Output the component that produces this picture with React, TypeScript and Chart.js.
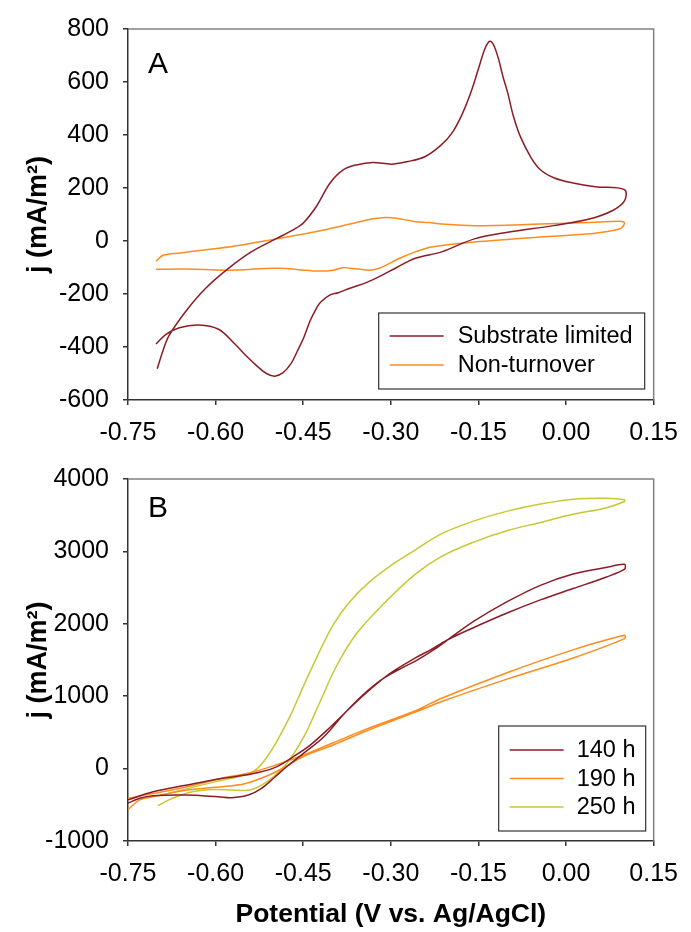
import React, { useEffect, useRef } from 'react';
import { Chart, registerables } from 'chart.js';

Chart.register(...registerables);

const FONT = "'Liberation Sans', Arial, Helvetica, sans-serif";

// ---------- Panel A ----------
const subV = [
  -0.700, -0.690, -0.680, -0.651, -0.617, -0.578, -0.539, -0.497, -0.465, -0.449, -0.427, -0.404, -0.381, -0.359,
  -0.331, -0.298, -0.270, -0.241, -0.215, -0.196, -0.178, -0.162, -0.150, -0.140, -0.133, -0.128, -0.123, -0.116,
  -0.108, -0.100, -0.090, -0.078, -0.060, -0.044, -0.020, 0.012, 0.050, 0.100, 0.100, 0.079, 0.040, -0.022,
  -0.100, -0.157, -0.213, -0.258, -0.290, -0.314, -0.340, -0.370, -0.390, -0.404, -0.420, -0.427, -0.438, -0.449,
  -0.460, -0.471, -0.485, -0.499, -0.513, -0.527, -0.547, -0.567, -0.595, -0.629, -0.662, -0.685, -0.702,
];
const subJ = [
  -482, -413, -358, -265, -178, -103, -41, 8, 45, 70, 132, 219, 269, 287,
  296, 290, 300, 319, 360, 405, 478, 567, 650, 720, 750, 752, 735, 690,
  620, 560, 470, 393, 315, 269, 238, 219, 205, 194, 151, 114, 83, 58,
  33, 8, -41, -65, -100, -128, -155, -178, -195, -203, -230, -252, -300, -364,
  -415, -463, -498, -510, -500, -476, -435, -389, -333, -317, -327, -352, -389,
];

const nonV = [
  -0.702, -0.690, -0.660, -0.623, -0.567, -0.497, -0.427, -0.370, -0.330, -0.309, -0.290, -0.258, -0.235, -0.213,
  -0.157, -0.044, 0.040, 0.096, 0.100, 0.091, 0.040, -0.044, -0.157, -0.230, -0.258, -0.286, -0.320, -0.337,
  -0.355, -0.370, -0.381, -0.398, -0.427, -0.494, -0.578, -0.651, -0.702,
];
const nonJ = [
  -76, -54, -45, -35, -19, 8, 36, 64, 84, 89, 86, 73, 70, 64,
  58, 64, 70, 74, 66, 45, 27, 15, -4, -23, -41, -66, -103, -110,
  -106, -103, -100, -110, -113, -103, -110, -106, -107,
];

// ---------- Panel B ----------
const h140V = [
  -0.750, -0.730, -0.707, -0.651, -0.595, -0.573, -0.544, -0.522, -0.499, -0.477, -0.449, -0.415, -0.381, -0.348,
  -0.314, -0.280, -0.258, -0.225, -0.196, -0.157, -0.100, -0.044, 0.012, 0.068, 0.100, 0.100, 0.068, 0.012,
  -0.044, -0.100, -0.157, -0.200, -0.230, -0.258, -0.303, -0.337, -0.370, -0.404, -0.438, -0.466, -0.499, -0.539,
  -0.595, -0.651, -0.707, -0.750,
];
const h140J = [
  -477, -410, -374, -365, -388, -401, -365, -276, -120, 36, 214, 437, 749, 1016,
  1239, 1395, 1484, 1650, 1818, 2041, 2309, 2531, 2687, 2777, 2821, 2754, 2643, 2487,
  2330, 2152, 1952, 1790, 1650, 1528, 1306, 1083, 838, 571, 325, 170, 13, -76,
  -143, -231, -321, -432,
];

const h190V = [
  -0.750, -0.730, -0.707, -0.651, -0.595, -0.550, -0.511, -0.483, -0.449, -0.398, -0.342, -0.258, -0.213, -0.100,
  0.012, 0.100, 0.100, 0.012, -0.100, -0.213, -0.258, -0.342, -0.398, -0.455, -0.494, -0.539, -0.595, -0.651,
  -0.707, -0.750,
];
const h190J = [
  -566, -432, -388, -298, -254, -209, -98, 13, 170, 330, 520, 780, 926, 1239,
  1528, 1796, 1841, 1640, 1328, 972, 800, 545, 360, 170, 57, -53, -143, -254,
  -343, -410,
];

const h250V = [
  -0.699, -0.674, -0.640, -0.600, -0.544, -0.522, -0.499, -0.477, -0.449, -0.421, -0.393, -0.359, -0.314, -0.258,
  -0.213, -0.157, -0.100, -0.044, 0.012, 0.068, 0.100, 0.100, 0.068, 0.012, -0.044, -0.100, -0.157, -0.213,
  -0.258, -0.297, -0.337, -0.370, -0.398, -0.426, -0.449, -0.471, -0.494, -0.511, -0.527, -0.544, -0.600, -0.650,
  -0.700,
];
const h250J = [
  -512, -410, -321, -290, -298, -231, -98, 80, 437, 927, 1417, 1862, 2263, 2687,
  2932, 3132, 3289, 3400, 3512, 3600, 3690, 3713, 3734, 3721, 3654, 3556, 3422, 3245,
  3021, 2821, 2576, 2309, 1996, 1551, 1150, 749, 392, 170, 13, -76, -180, -280,
  -380,
];

// ---------- Axes / labels ----------
const xTicks = [-0.75, -0.6, -0.45, -0.3, -0.15, 0, 0.15];
const yTicksA = [-600, -400, -200, 0, 200, 400, 600, 800];
const yTicksB = [-1000, 0, 1000, 2000, 3000, 4000];
const seriesA = ['Substrate limited', 'Non-turnover'];
const seriesB = ['140 h', '190 h', '250 h'];
const xTitle = 'Potential (V vs. Ag/AgCl)';
const yTitle = 'j (mA/m\u00B2)';

const RED = '#8c1c24';
const ORANGE = '#ff8c1e';
const YELLOW = '#c8c832';

const toPts = (xs: number[], ys: number[]) => xs.map((x, i) => ({ x, y: ys[i] }));

const decorPlugin = {
  id: 'decor',
  afterDraw(chart: any, _args: any, opts: any) {
    const { ctx, chartArea: ca } = chart;
    ctx.save();
    // top & right frame
    ctx.strokeStyle = '#808080';
    ctx.lineWidth = 1.5;
    ctx.beginPath();
    ctx.moveTo(ca.left, ca.top);
    ctx.lineTo(ca.right, ca.top);
    ctx.lineTo(ca.right, ca.bottom);
    ctx.stroke();
    // panel letter
    ctx.fillStyle = '#000';
    ctx.font = `30px ${FONT}`;
    ctx.textAlign = 'left';
    ctx.textBaseline = 'alphabetic';
    ctx.fillText(opts.letter, ca.left + opts.letterDx, ca.top + opts.letterDy);
    // legend
    const L = opts.legend;
    const bx = ca.right - L.right - L.w;
    const by = ca.bottom - L.bottom - L.h;
    ctx.fillStyle = '#fff';
    ctx.fillRect(bx, by, L.w, L.h);
    ctx.strokeStyle = '#333';
    ctx.lineWidth = 1.2;
    ctx.strokeRect(bx, by, L.w, L.h);
    chart.data.datasets.forEach((ds: any, i: number) => {
      const y = by + L.first + i * L.step;
      ctx.strokeStyle = ds.borderColor;
      ctx.lineWidth = 1.6;
      ctx.beginPath();
      ctx.moveTo(bx + L.lineX0, y);
      ctx.lineTo(bx + L.lineX1, y);
      ctx.stroke();
      ctx.fillStyle = '#000';
      ctx.font = `23.5px ${FONT}`;
      ctx.textBaseline = 'middle';
      ctx.fillText(ds.label, bx + L.textX, y + 1);
    });
    ctx.restore();
  },
};

function makeConfig(
  datasets: any[],
  yMin: number,
  yMax: number,
  yTicks: number[],
  xHeight: number,
  padTop: number,
  showXTitle: boolean,
  decor: any,
): any {
  return {
    type: 'scatter',
    data: { datasets },
    plugins: [decorPlugin],
    options: {
      responsive: false,
      animation: false,
      devicePixelRatio: 1,
      layout: { padding: { top: padTop, right: 29, left: 0, bottom: 0 } },
      plugins: {
        legend: { display: false },
        tooltip: { enabled: false },
        decor,
      },
      elements: { point: { radius: 0, hoverRadius: 0 } },
      scales: {
        x: {
          type: 'linear',
          min: -0.75,
          max: 0.15,
          afterBuildTicks: (s: any) => {
            s.ticks = xTicks.map((v) => ({ value: v }));
          },
          afterFit: (s: any) => {
            s.height = xHeight;
          },
          ticks: {
            color: '#000',
            font: { size: 25, family: FONT },
            padding: 13,
            maxRotation: 0,
            autoSkip: false,
            callback: (v: any) => {
              const n = Number(v);
              return Math.abs(n) < 1e-9 ? '0.00' : n.toFixed(2);
            },
          },
          grid: { drawOnChartArea: false, drawTicks: true, tickLength: 5, color: '#333', lineWidth: 1.5 },
          border: { display: true, color: '#333', width: 1.5 },
          title: {
            display: showXTitle,
            text: xTitle,
            color: '#000',
            font: { size: 26.5, weight: 'bold', family: FONT },
            padding: { top: 0, bottom: 1 },
          },
        },
        y: {
          type: 'linear',
          min: yMin,
          max: yMax,
          afterBuildTicks: (s: any) => {
            s.ticks = yTicks.map((v) => ({ value: v }));
          },
          afterFit: (s: any) => {
            s.width = 128;
          },
          ticks: {
            color: '#000',
            font: { size: 25, family: FONT },
            padding: 14,
            autoSkip: false,
            callback: (v: any) => String(Math.round(Number(v))),
          },
          grid: { drawOnChartArea: false, drawTicks: true, tickLength: 5, color: '#333', lineWidth: 1.5 },
          border: { display: true, color: '#333', width: 1.5 },
          title: {
            display: true,
            text: yTitle,
            color: '#000',
            font: { size: 27, weight: 'bold', family: FONT },
            padding: { top: 22, bottom: 0 },
          },
        },
      },
    },
  };
}

const lineDs = (label: string, xs: number[], ys: number[], color: string) => ({
  label,
  data: toPts(xs, ys),
  showLine: true,
  borderColor: color,
  backgroundColor: color,
  borderWidth: 1.5,
  tension: 0.35,
  pointRadius: 0,
  fill: false,
});

export default function App() {
  const refA = useRef<HTMLCanvasElement | null>(null);
  const refB = useRef<HTMLCanvasElement | null>(null);

  useEffect(() => {
    if (!refA.current || !refB.current) return;
    const chartA = new Chart(
      refA.current,
      makeConfig(
        [lineDs(seriesA[0], subV, subJ, RED), lineDs(seriesA[1], nonV, nonJ, ORANGE)],
        -600,
        800,
        yTicksA,
        50,
        24,
        false,
        {
          letter: 'A',
          letterDx: 20,
          letterDy: 44,
          legend: { w: 266, h: 76, right: 9, bottom: 11, first: 23, step: 29, lineX0: 11, lineX1: 65, textX: 79 },
        },
      ),
    );
    const chartB = new Chart(
      refB.current,
      makeConfig(
        [
          lineDs(seriesB[0], h140V, h140J, RED),
          lineDs(seriesB[1], h190V, h190J, ORANGE),
          lineDs(seriesB[2], h250V, h250J, YELLOW),
        ],
        -1000,
        4000,
        yTicksB,
        91,
        17,
        true,
        {
          letter: 'B',
          letterDx: 20,
          letterDy: 38,
          legend: { w: 147, h: 105, right: 8, bottom: 10, first: 24, step: 28.5, lineX0: 11, lineX1: 65, textX: 78 },
        },
      ),
    );
    return () => {
      chartA.destroy();
      chartB.destroy();
    };
  }, []);

  return (
    <div style={{ position: 'absolute', left: 0, top: 0, width: 691, height: 932, background: '#fff' }}>
      <canvas ref={refA} width={691} height={450} style={{ position: 'absolute', left: 0, top: 0 }} />
      <canvas ref={refB} width={691} height={482} style={{ position: 'absolute', left: 0, top: 450 }} />
    </div>
  );
}
